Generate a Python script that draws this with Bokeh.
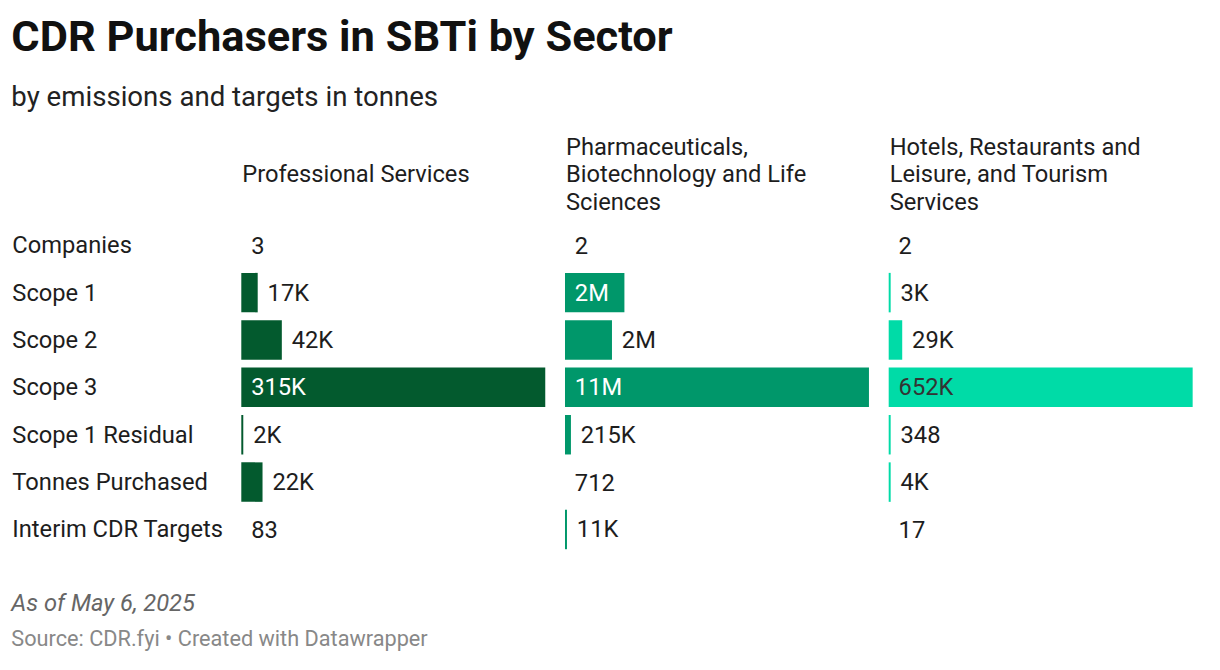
from bokeh.plotting import figure
from bokeh.models import Range1d
from bokeh.core.properties import value
from bokeh.embed import file_html
from bokeh.resources import INLINE

# ---------------- data ----------------
title = "CDR Purchasers in SBTi by Sector"
subtitle = "by emissions and targets in tonnes"
note = "As of May 6, 2025"
source_txt = "Source: CDR.fyi \u2022 Created with Datawrapper"

rows = ["Companies", "Scope 1", "Scope 2", "Scope 3", "Scope 1 Residual",
        "Tonnes Purchased", "Interim CDR Targets"]

sectors = ["Professional Services",
           "Pharmaceuticals,\nBiotechnology and Life\nSciences",
           "Hotels, Restaurants and\nLeisure, and Tourism\nServices"]

companies = [3, 2, 2]

# metric values (Scope 1 .. Interim CDR Targets), tonnes
prof_values = [17000, 42000, 315000, 2000, 22000, 83]
pharma_values = [2150000, 1700000, 11000000, 215000, 712, 11000]
hotel_values = [3000, 29000, 652000, 348, 4000, 17]

prof_labels = ["17K", "42K", "315K", "2K", "22K", "83"]
pharma_labels = ["2M", "2M", "11M", "215K", "712", "11K"]
hotel_labels = ["3K", "29K", "652K", "348", "4K", "17"]

colors = ["#035a2e", "#00976a", "#00dba7"]
inside_text_colors = ["#ffffff", "#ffffff", "#333333"]

# ---------------- layout ----------------
W, H = 1204, 654
REF_W = 1220
S = W / REF_W            # uniform scale from reference pixels to figure pixels
REF_H = H / S
FONT = "Roboto"
FS = 24                  # body font in reference pixels
col_x = [244, 572, 900]
col_w = 308
row_y0, row_step = 248, 48
bar_h = 40
text_color = "#1d1d1d"

glyph_w = {"K": 0.63, "M": 0.87}


def px(size):
    return f"{size * S:.1f}px"


def est_width(s):
    return sum(glyph_w.get(c, 0.562) for c in s) * FS


p = figure(width=W, height=H, x_range=Range1d(0, REF_W), y_range=Range1d(REF_H, 0),
           output_backend="svg", toolbar_location=None, min_border=0,
           x_axis_type=None, y_axis_type=None)
p.grid.visible = False
p.outline_line_color = None
p.background_fill_color = "white"
p.border_fill_color = "white"

# title / subtitle
p.text(x=[11], y=[36], text=[title], text_font=value(FONT), text_font_size=px(44),
       text_font_style="bold", text_color="#111111", text_baseline="middle")
p.text(x=[11], y=[97], text=[subtitle], text_font=value(FONT), text_font_size=px(28),
       text_color="#222222", text_baseline="middle")

# column headers
hx, hy, ht = [], [], []
for ci, name in enumerate(sectors):
    lines = name.split("\n")
    start = 176 - (len(lines) - 1) * 28 / 2
    for li, ln in enumerate(lines):
        hx.append(col_x[ci] + 1)
        hy.append(start + li * 28)
        ht.append(ln)
p.text(x=hx, y=hy, text=ht, text_font=value(FONT), text_font_size=px(FS),
       text_color=text_color, text_baseline="middle")

# row labels
row_centers = [row_y0 + i * row_step for i in range(len(rows))]
p.text(x=[12] * len(rows), y=row_centers, text=rows, text_font=value(FONT),
       text_font_size=px(FS), text_color=text_color, text_baseline="middle")

# companies row (text only)
p.text(x=[cx + 10 for cx in col_x], y=[row_centers[0]] * 3, text=[str(c) for c in companies],
       text_font=value(FONT), text_font_size=px(FS), text_color=text_color,
       text_baseline="middle")

# bars per sector column
all_values = [prof_values, pharma_values, hotel_values]
all_labels = [prof_labels, pharma_labels, hotel_labels]
for ci in range(3):
    vals = all_values[ci]
    labs = all_labels[ci]
    vmax = max(vals)
    bl, br, by = [], [], []
    tin_x, tin_y, tin_t = [], [], []
    tout_x, tout_y, tout_t = [], [], []
    for ri, (v, lab) in enumerate(zip(vals, labs)):
        yc = row_centers[ri + 1]
        rel = v / vmax
        if rel >= 0.0004:
            w = max(rel * col_w, 2)
            bl.append(col_x[ci]); br.append(col_x[ci] + w); by.append(yc)
        else:
            w = 0
        if w >= est_width(lab) + 20:
            tin_x.append(col_x[ci] + 10); tin_y.append(yc); tin_t.append(lab)
        else:
            tout_x.append(col_x[ci] + w + 10); tout_y.append(yc); tout_t.append(lab)
    p.hbar(y=by, left=bl, right=br, height=bar_h, fill_color=colors[ci], line_color=None)
    p.text(x=tin_x, y=tin_y, text=tin_t, text_font=value(FONT), text_font_size=px(FS),
           text_color=inside_text_colors[ci], text_baseline="middle")
    p.text(x=tout_x, y=tout_y, text=tout_t, text_font=value(FONT), text_font_size=px(FS),
           text_color=text_color, text_baseline="middle")

# footer
p.text(x=[11], y=[610], text=[note], text_font=value(FONT), text_font_size=px(FS),
       text_font_style="italic", text_color="#666666", text_baseline="middle")
p.text(x=[11], y=[646], text=[source_txt], text_font=value(FONT), text_font_size=px(22),
       text_color="#888888", text_baseline="middle")

open("out.html", "w").write(file_html(p, INLINE))
